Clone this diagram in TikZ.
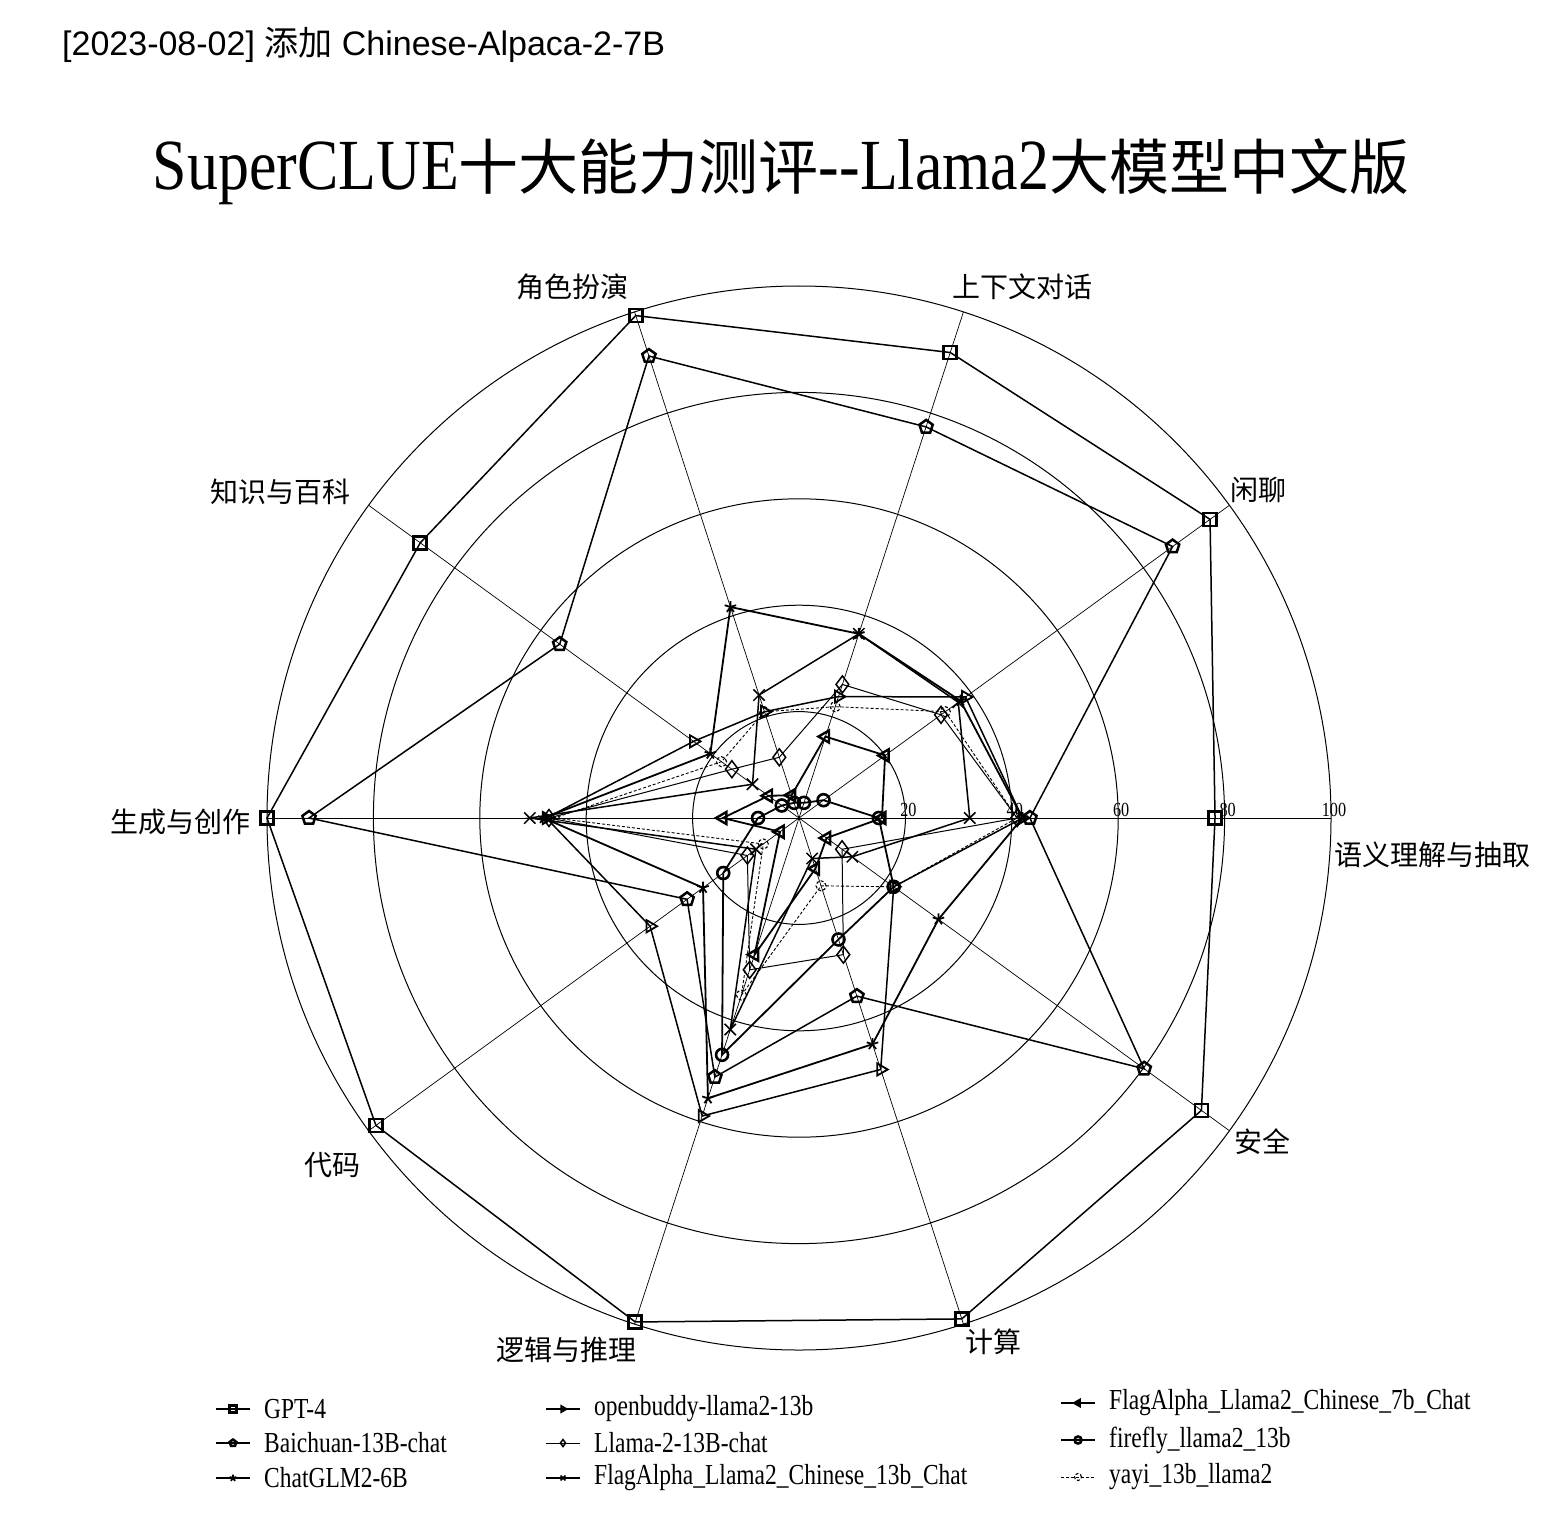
\documentclass[tikz,border=0pt]{standalone}
\usepackage{fontspec}
\setmainfont{Liberation Serif}
\newfontfamily\cjk{Noto Sans CJK SC}
\newfontfamily\headsans{Liberation Sans}
\newfontfamily\narrowserif[FakeStretch=0.81]{Liberation Serif}
\newfontfamily\titleserif[FakeStretch=0.86]{Liberation Serif}
\usetikzlibrary{plotmarks}

\newcommand{\ru}{5.32}% pixels per score point
\newcommand{\radar}[3]{% #1 line style, #2 mark style, #3 ten scores
  \foreach \v [count=\k from 0] in {#3}{
    \coordinate (r\k) at (\k*36:\v*\ru);
  }
  \draw[#1] (r0) -- (r1) -- (r2) -- (r3) -- (r4) -- (r5) -- (r6) -- (r7) -- (r8) -- (r9) -- cycle;
  \draw[#1,#2] plot[only marks] coordinates {(r0) (r1) (r2) (r3) (r4) (r5) (r6) (r7) (r8) (r9)};
}

\tikzset{
  ring/.style={line width=1pt},
  spoke/.style={line width=0.7pt},
  axislabel/.style={font=\cjk\fontsize{28}{30}\selectfont, inner sep=0pt},
  ticklabel/.style={font=\narrowserif\fontsize{20}{20}\selectfont, inner sep=1pt, anchor=south},
  legendtext/.style={font=\narrowserif\fontsize{29}{30}\selectfont, anchor=west, inner sep=0pt},
  legline/.style={line width=1pt},
  gptline/.style={line width=1.5pt},
  baichuanline/.style={line width=1.5pt},
  glmline/.style={line width=1.8pt},
  buddyline/.style={line width=1.5pt},
  llamaline/.style={line width=1pt},
  flagxiiiline/.style={line width=1.5pt},
  flagviiline/.style={line width=1.8pt},
  fireflyline/.style={line width=1.8pt},
  yayiline/.style={line width=0.9pt, densely dashed},
  gptmark/.style={mark=square, mark size=6.5pt, mark options={line width=2.6pt, fill=white, solid}},
  baichuanmark/.style={mark=pentagon, mark size=7pt, mark options={line width=2.5pt, fill=white, solid}},
  glmmark/.style={mark=star, mark size=6pt, mark options={line width=1.8pt, solid}},
  buddymark/.style={mark=triangle, mark size=7pt, mark options={rotate=-90, line width=1.8pt, fill=white, solid}},
  llamamark/.style={mark=diamond, mark size=8.5pt, mark options={line width=1.5pt, fill=white, solid}},
  flagxiiimark/.style={mark=x, mark size=8pt, mark options={line width=1.5pt, solid}},
  flagviimark/.style={mark=triangle, mark size=7pt, mark options={rotate=90, line width=2.4pt, fill=white, solid}},
  fireflymark/.style={mark=o, mark size=6pt, mark options={line width=2.6pt, fill=white, solid}},
  yayimark/.style={mark=o, mark size=5pt, mark options={line width=1.1pt, fill=white, densely dashed}},
}

\begin{document}
\begin{tikzpicture}[x=1pt, y=-1pt]
  \fill[white] (0,0) rectangle (1562,1522);
  \useasboundingbox (0,0) rectangle (1562,1522);

  % header and title
  \node[anchor=west, inner sep=0pt, font=\headsans\fontsize{34}{36}\selectfont] (stamp) at (62,45) {[2023-08-02] {\cjk 添加} Chinese-Alpaca-2-7B};
  \node[inner sep=0pt] (title) at (781,172) {{\titleserif\fontsize{72}{74}\selectfont SuperCLUE}{\cjk\fontsize{60}{62}\selectfont 十大能力测评}{\titleserif\fontsize{72}{74}\selectfont --Llama2}{\cjk\fontsize{60}{62}\selectfont 大模型中文版}};

  \begin{scope}[shift={(799,818)}, y=1pt]
    % rings and spokes
    \foreach \t in {20,40,60,80,100}{
      \draw[ring] (0,0) circle[radius=\t*\ru];
    }
    \foreach \a in {0,36,...,324}{
      \draw[spoke] (0,0) -- (\a:100*\ru);
    }

    % one closed line per model, scores from 语义理解与抽取 round to 安全
    \radar{gptline}{gptmark}{78.2,95.5,92.0,99.3,88.0,100,98.3,99.6,99.0,93.5}
    \radar{baichuanline}{baichuanmark}{43.4,86.8,77.3,91.3,55.6,92.1,26.0,51.2,35.2,80.2}
    \radar{glmline}{glmmark}{42,37.5,36.4,41.7,20.6,48,22.3,55.4,44.7,32.4}
    \radar{buddyline}{buddymark}{42,38.7,24,21,24.5,47.5,34.6,58.9,49.7,22}
    \radar{llamaline}{llamamark}{41,33,26.4,12,15.6,47,12,30,27,10}
    \radar{flagxiiiline}{flagxiiimark}{32.1,37,36.4,24.3,10.8,50.6,10,41.8,8,12.4}
    \radar{flagviiline}{flagviimark}{15.6,20,16.1,4.5,7.1,14.3,4.4,27,10,6.4}
    \radar{fireflyline}{fireflymark}{15,5.7,3,3,4,7.7,17.6,46.8,24,22}
    \radar{yayiline}{yayimark}{41,34,22,21,18,46,8.3,35,13.4,22}

    % scale numbers on the right spoke
    \foreach \t in {20,40,60,80,100}{
      \node[ticklabel] (tick\t) at (\t*\ru+3,0) {\t};
    }
  \end{scope}

  % axis names
  \node[axislabel] (yuyi) at (1432,855) {语义理解与抽取};
  \node[axislabel] (xianliao) at (1258,490) {闲聊};
  \node[axislabel] (shangxiawen) at (1022,287) {上下文对话};
  \node[axislabel] (juese) at (572,287) {角色扮演};
  \node[axislabel] (zhishi) at (280,492) {知识与百科};
  \node[axislabel] (shengcheng) at (180,822) {生成与创作};
  \node[axislabel] (daima) at (332,1165) {代码};
  \node[axislabel] (luoji) at (566,1350) {逻辑与推理};
  \node[axislabel] (jisuan) at (993,1342) {计算};
  \node[axislabel] (anquan) at (1262,1142) {安全};

  % legend, three columns
  \foreach \mk/\ln/\lx/\ly/\name in {gptmark/gptline/233/1409/GPT-4,
      baichuanmark/baichuanline/233/1443/Baichuan-13B-chat,
      glmmark/glmline/233/1478/ChatGLM2-6B,
      buddymark/buddyline/563/1409/openbuddy-llama2-13b,
      llamamark/llamaline/563/1443/Llama-2-13B-chat,
      flagxiiimark/flagxiiiline/563/1478/FlagAlpha\_Llama2\_Chinese\_13b\_Chat,
      flagviimark/flagviiline/1078/1403/FlagAlpha\_Llama2\_Chinese\_7b\_Chat,
      fireflymark/fireflyline/1078/1440/firefly\_llama2\_13b,
      yayimark/yayiline/1078/1477/yayi\_13b\_llama2}{
    \draw[legline,\ln] (\lx-17,\ly) -- (\lx+17,\ly);
    \draw[legline,\ln,\mk,mark size=3.5pt] plot[only marks] coordinates {(\lx,\ly)};
    \node[legendtext] (leg\lx\ly) at (\lx+31,\ly) {\name};
  }
\end{tikzpicture}
\end{document}
